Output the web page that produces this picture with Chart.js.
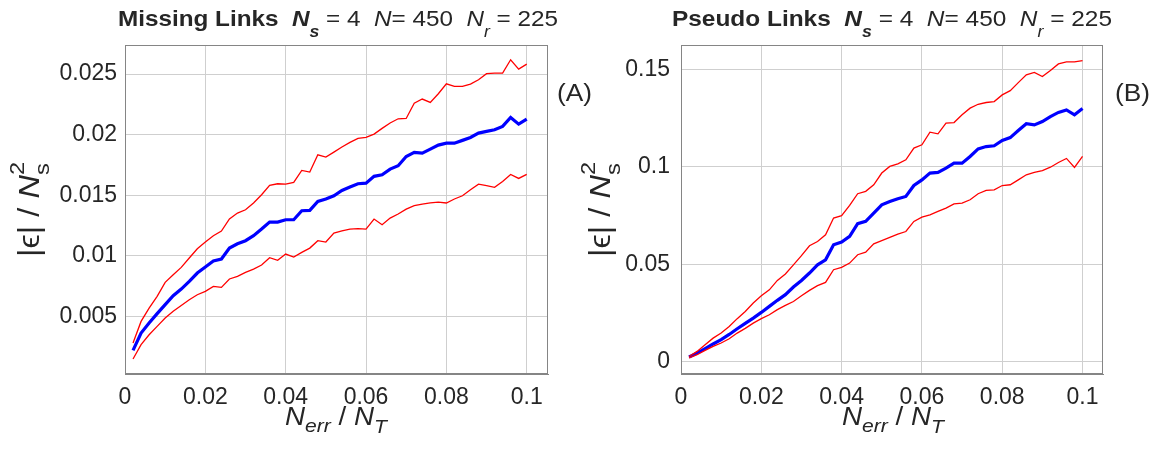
<!DOCTYPE html>
<html><head><meta charset="utf-8">
<script src="https://cdn.jsdelivr.net/npm/chart.js@4.4.1/dist/chart.umd.min.js"></script>
<style>
html,body{margin:0;padding:0;background:#fff;overflow:hidden}
#wrap{position:relative;width:1158px;height:451px;background:#fff}
canvas{position:absolute;left:0;top:0}
</style></head><body>
<div id="wrap"><canvas id="c1" width="1158" height="451"></canvas><canvas id="c2" width="1158" height="451"></canvas></div>
<script>
const errFraction = [0.002,0.004,0.006,0.008,0.010,0.012,0.014,0.016,0.018,0.020,
  0.022,0.024,0.026,0.028,0.030,0.032,0.034,0.036,0.038,0.040,
  0.042,0.044,0.046,0.048,0.050,0.052,0.054,0.056,0.058,0.060,
  0.062,0.064,0.066,0.068,0.070,0.072,0.074,0.076,0.078,0.080,
  0.082,0.084,0.086,0.088,0.090,0.092,0.094,0.096,0.098,0.100];

const missingMean = [0.0022,0.00363,0.00446,0.00523,0.00597,0.00671,0.00726,0.00789,0.00858,0.00908,
  0.00957,0.00974,0.01064,0.0110,0.01125,0.01166,0.01221,0.01279,0.01279,0.01298,
  0.01298,0.01372,0.01375,0.01449,0.01469,0.01496,0.0154,0.01568,0.01595,0.016,
  0.01656,0.01669,0.01716,0.01744,0.0182,0.01854,0.01848,0.01881,0.01914,0.0193,
  0.0193,0.01953,0.01977,0.02013,0.02027,0.0204,0.02068,0.02142,0.02087,0.02129];
const missingUpper = [0.00281,0.00459,0.00569,0.00666,0.00781,0.00844,0.00905,0.00982,0.01059,0.01114,
  0.01166,0.01205,0.01304,0.01353,0.0138,0.01436,0.01504,0.01581,0.01595,0.01592,
  0.01606,0.01705,0.01691,0.01834,0.01815,0.01856,0.01898,0.01936,0.01969,0.01977,
  0.02005,0.02052,0.02096,0.02131,0.02134,0.0226,0.02294,0.02266,0.02338,0.0242,
  0.02398,0.02398,0.02417,0.02453,0.02503,0.02508,0.02508,0.02618,0.02541,0.02582];
const missingLower = [0.00149,0.00267,0.00349,0.00418,0.00487,0.00542,0.00591,0.00638,0.00679,0.00707,
  0.00748,0.0074,0.00809,0.00831,0.00864,0.00891,0.00924,0.00985,0.00963,0.01015,
  0.0099,0.01029,0.01064,0.01125,0.01114,0.01188,0.01207,0.01221,0.01224,0.01221,
  0.01304,0.01257,0.01312,0.01345,0.01386,0.01414,0.01427,0.01438,0.01444,0.01436,
  0.01469,0.01496,0.01546,0.01592,0.01579,0.01565,0.01614,0.01672,0.01639,0.01672];

const pseudoMean = [0.0024,0.0044,0.0067,0.0091,0.0113,0.0140,0.0169,0.0197,0.0224,0.0253,
  0.0284,0.0315,0.0344,0.0383,0.0417,0.0455,0.0497,0.0523,0.0600,0.0614,
  0.0643,0.0708,0.0720,0.0762,0.0805,0.0822,0.0836,0.0848,0.0904,0.0933,
  0.0968,0.0971,0.0993,0.1019,0.1019,0.1053,0.1092,0.1104,0.1108,0.1135,
  0.1150,0.1186,0.1221,0.1215,0.1232,0.1258,0.1279,0.1292,0.1267,0.1299];
const pseudoUpper = [0.0027,0.0053,0.0087,0.0121,0.0147,0.0181,0.0221,0.0258,0.0301,0.0338,
  0.0369,0.0417,0.0450,0.0497,0.0544,0.0595,0.0617,0.0651,0.0737,0.0749,
  0.0802,0.0862,0.0874,0.0908,0.0968,0.1002,0.1015,0.1036,0.1096,0.1113,
  0.1178,0.1169,0.1224,0.1227,0.1267,0.1301,0.1321,0.1330,0.1335,0.1369,
  0.1391,0.1432,0.1472,0.1484,0.1463,0.1494,0.1528,0.1538,0.1538,0.1545];
const pseudoLower = [0.0019,0.0036,0.0058,0.0079,0.0096,0.0118,0.0147,0.0171,0.0198,0.0221,
  0.0241,0.0267,0.0289,0.0309,0.0338,0.0366,0.0390,0.0407,0.0472,0.0484,
  0.0506,0.0549,0.0562,0.0605,0.0621,0.0638,0.0655,0.0668,0.0720,0.0742,
  0.0754,0.0771,0.0788,0.0810,0.0814,0.0831,0.0862,0.0879,0.0882,0.0904,
  0.0908,0.0933,0.0959,0.0971,0.0981,0.0998,0.1022,0.1043,0.0997,0.1053];

const xTicks = [0,0.02,0.04,0.06,0.08,0.1];
const xTickLabels = ['0','0.02','0.04','0.06','0.08','0.1'];
const missingYTicks = [0.005,0.01,0.015,0.02,0.025];
const missingYTickLabels = ['0.005','0.01','0.015','0.02','0.025'];
const pseudoYTicks = [0,0.05,0.1,0.15];
const pseudoYTickLabels = ['0','0.05','0.1','0.15'];

const FAM = '"Liberation Sans", Arial, Helvetica, sans-serif';
const TXT = '#262626';
const GRID = '#cfcfcf';
const BOX = '#858585';

function drawRuns(ctx, runs, o) {
  ctx.save();
  let W = 0;
  runs.forEach(r => { ctx.font = r.font; r.w = ctx.measureText(r.t).width; if (!r.stack) W += r.w; });
  const last = runs[runs.length-1]; if (last.stack) W += last.w;
  ctx.translate(o.x, o.y);
  if (o.rotate) ctx.rotate(-Math.PI/2);
  ctx.scale(o.width / W, o.cross || 1);
  ctx.fillStyle = TXT; ctx.textBaseline = 'alphabetic'; ctx.textAlign = 'left';
  let cx = 0;
  runs.forEach(r => { ctx.font = r.font; ctx.fillText(r.t, cx, r.dy || 0); if (!r.stack) cx += r.w; });
  ctx.restore();
}

function titleRuns(name) {
  return [
    {t: name + '  ', font: 'bold 22px ' + FAM},
    {t: 'N', font: 'italic bold 22px ' + FAM},
    {t: 's', font: 'italic bold 16px ' + FAM, dy: 11},
    {t: ' = 4  ', font: '22px ' + FAM},
    {t: 'N', font: 'italic 22px ' + FAM},
    {t: '= 450  ', font: '22px ' + FAM},
    {t: 'N', font: 'italic 22px ' + FAM},
    {t: 'r', font: 'italic 16px ' + FAM, dy: 11},
    {t: ' = 225', font: '22px ' + FAM}
  ];
}
function xLabelRuns() {
  return [
    {t: 'N', font: 'italic 25px ' + FAM},
    {t: 'err', font: 'italic 19px ' + FAM, dy: 7},
    {t: ' / ', font: '25px ' + FAM},
    {t: 'N', font: 'italic 25px ' + FAM},
    {t: 'T', font: 'italic 19px ' + FAM, dy: 8}
  ];
}
function yLabelRuns() {
  return [
    {t: '|\u03F5| / ', font: '29px ' + FAM},
    {t: 'N', font: 'italic 29px ' + FAM},
    {t: 's', font: '21px ' + FAM, dy: 10, stack: true},
    {t: '2', font: '21px ' + FAM, dy: -15, stack: true}
  ];
}

function labelOf(vals, labels, v) {
  const i = vals.findIndex(t => Math.abs(t - v) < 1e-9);
  return i >= 0 ? labels[i] : '';
}

function makeChart(id, c) {
  const pts = arr => arr.map((v, i) => ({x: errFraction[i], y: v}));
  const boxAndText = {
    id: 'boxAndText',
    afterDraw(chart) {
      const ctx = chart.ctx, a = chart.chartArea;
      ctx.save();
      ctx.strokeStyle = BOX; ctx.lineWidth = 1;
      ctx.strokeRect(Math.round(a.left) + 0.5, Math.round(a.top) + 0.5, Math.round(a.right - a.left) - 1, Math.round(a.bottom - a.top) - 1);
      ctx.restore();
      drawRuns(ctx, titleRuns(c.title), {x: c.titleX, y: 26, width: 440});
      drawRuns(ctx, xLabelRuns(), {x: c.xlabX, y: 425, width: 102});
      drawRuns(ctx, yLabelRuns(), {x: c.ylabX, y: 257, width: 95, rotate: true});
      drawRuns(ctx, [{t: c.tag, font: '23px ' + FAM}], {x: c.tagX, y: 101, width: 35});
    }
  };
  return new Chart(document.getElementById(id), {
    type: 'line',
    data: {datasets: [
      {data: pts(c.upper), borderColor: '#ff0000', borderWidth: 1.3, pointRadius: 0, tension: 0, fill: false},
      {data: pts(c.lower), borderColor: '#ff0000', borderWidth: 1.3, pointRadius: 0, tension: 0, fill: false},
      {data: pts(c.mean), borderColor: '#0000ff', borderWidth: 3.2, pointRadius: 0, tension: 0, fill: false}
    ]},
    options: {
      responsive: false, animation: false, devicePixelRatio: 1,
      layout: {padding: {left: 0, right: c.padRight, top: 45, bottom: 0}},
      plugins: {legend: {display: false}, tooltip: {enabled: false}, title: {display: false}},
      scales: {
        x: {
          type: 'linear', min: 0, max: c.xMax,
          afterBuildTicks: s => { s.ticks = xTicks.map(v => ({value: v})); },
          afterFit: s => { s.height = 77; },
          ticks: {callback: v => labelOf(xTicks, xTickLabels, v), font: {family: FAM, size: 23}, color: TXT, padding: 10, maxRotation: 0, autoSkip: false},
          grid: {color: GRID, drawTicks: false, lineWidth: 1},
          border: {color: BOX}
        },
        y: {
          type: 'linear', min: c.yMin, max: c.yMax,
          afterBuildTicks: s => { s.ticks = c.yTicks.map(v => ({value: v})); },
          afterFit: s => { s.width = c.yWidth; },
          ticks: {callback: v => labelOf(c.yTicks, c.yLabels, v), font: {family: FAM, size: 23}, color: TXT, padding: c.yPad, autoSkip: false},
          grid: {color: GRID, drawTicks: false, lineWidth: 1},
          border: {color: BOX}
        }
      }
    },
    plugins: [boxAndText]
  });
}

makeChart('c1', {
  title: 'Missing Links', titleX: 118, xlabX: 285, ylabX: 39, tag: '(A)', tagX: 557,
  mean: missingMean, upper: missingUpper, lower: missingLower,
  xMax: 0.1053, yMin: 0.00025, yMax: 0.0274, yTicks: missingYTicks, yLabels: missingYTickLabels,
  yWidth: 125, padRight: 610, yPad: 8
});
makeChart('c2', {
  title: 'Pseudo Links', titleX: 672, xlabX: 842, ylabX: 610, tag: '(B)', tagX: 1115,
  mean: pseudoMean, upper: pseudoUpper, lower: pseudoLower,
  xMax: 0.1051, yMin: -0.0063, yMax: 0.1625, yTicks: pseudoYTicks, yLabels: pseudoYTickLabels,
  yWidth: 681, padRight: 55, yPad: 11
});
</script>
</body></html>
